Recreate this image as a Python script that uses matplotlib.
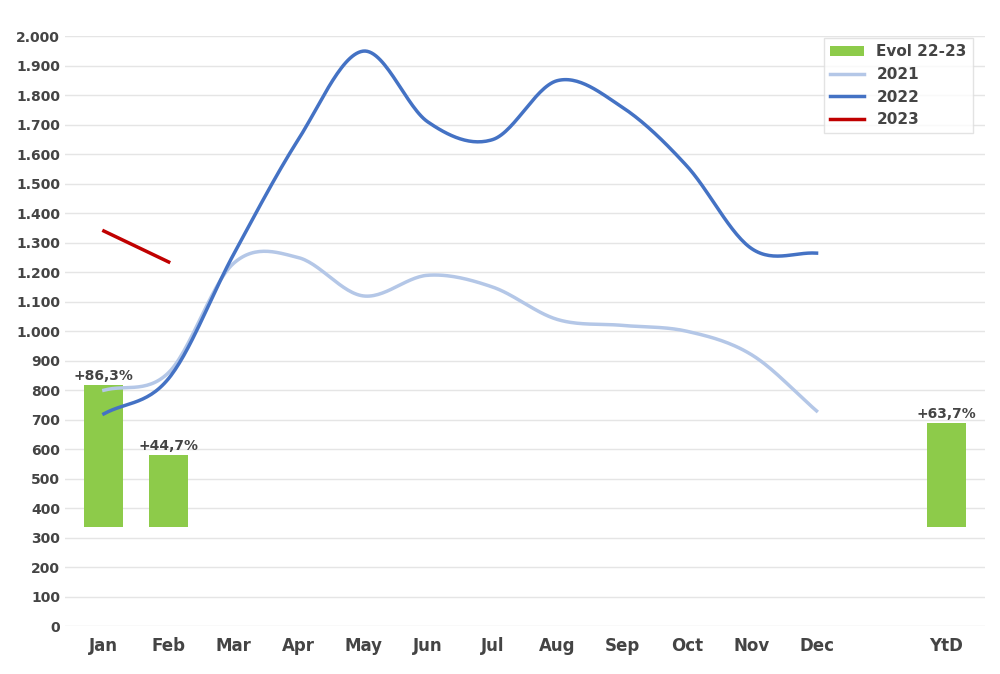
import numpy as np
import matplotlib
matplotlib.use("Agg")
import matplotlib.pyplot as plt

months = ["Jan","Feb","Mar","Apr","May","Jun","Jul","Aug","Sep","Oct","Nov","Dec"]
ticklabels = months + ["", "YtD"]
s2021 = [800, 860, 1230, 1250, 1120, 1190, 1150, 1040, 1020, 1000, 920, 730]
s2022 = [720, 840, 1260, 1650, 1950, 1710, 1650, 1850, 1760, 1560, 1280, 1265]
s2023 = [1340, 1235]
bar_pos = [0, 1, 13]
bar_base = 335
bar_top = [817, 580, 688]
bar_labels = ["+86,3%", "+44,7%", "+63,7%"]

def smooth(y, n=30):
    y = np.asarray(y, float)
    x = np.arange(len(y))
    p = np.concatenate([[2*y[0]-y[1]], y, [2*y[-1]-y[-2]]])
    xs, ys = [], []
    for i in range(len(y)-1):
        p0, p1, p2, p3 = p[i], p[i+1], p[i+2], p[i+3]
        t = np.linspace(0, 1, n, endpoint=False)
        v = 0.5*((2*p1) + (-p0+p2)*t + (2*p0-5*p1+4*p2-p3)*t**2 + (-p0+3*p1-3*p2+p3)*t**3)
        xs.append(x[i]+t); ys.append(v)
    xs.append([x[-1]]); ys.append([y[-1]])
    return np.concatenate(xs), np.concatenate(ys)

fig, ax = plt.subplots(figsize=(10, 6.74), dpi=100)
fig.subplots_adjust(left=0.065, right=0.985, top=0.946, bottom=0.071)
gray = "#444444"
hb = ax.bar(bar_pos, [t-bar_base for t in bar_top], bottom=bar_base, width=0.6,
       color="#8DCB4A", label="Evol 22-23", zorder=2)
for p, t, l in zip(bar_pos, bar_top, bar_labels):
    ax.text(p, t+8, l, ha="center", va="bottom", fontsize=10, fontweight="bold", color=gray)
x, y = smooth(s2021)
h1, = ax.plot(x, y, color="#B4C7E7", lw=2.5, label="2021", zorder=3)
x, y = smooth(s2022)
h2, = ax.plot(x, y, color="#4472C4", lw=2.5, label="2022", zorder=3)
h3, = ax.plot(range(len(s2023)), s2023, color="#C00000", lw=2.5, label="2023", zorder=3)

ax.set_ylim(0, 2000)
ax.set_xlim(-0.6, 13.6)
ax.set_yticks(range(0, 2001, 100))
ax.set_yticklabels([f"{v:,}".replace(",", ".") for v in range(0, 2001, 100)])
ax.set_xticks(range(14))
ax.set_xticklabels(ticklabels)
for lab in ax.get_xticklabels() + ax.get_yticklabels():
    lab.set_fontweight("bold"); lab.set_color(gray)
ax.tick_params(axis="x", labelsize=12, length=0, pad=8)
ax.tick_params(axis="y", labelsize=10, length=0)
ax.grid(axis="y", color="#E5E5E5", lw=1, zorder=0)
ax.set_axisbelow(True)
for s in ax.spines.values():
    s.set_visible(False)
leg = ax.legend([hb, h1, h2, h3], ["Evol 22-23", "2021", "2022", "2023"],
                loc="upper right", fontsize=11, frameon=True, fancybox=False,
                edgecolor="#DDDDDD", handlelength=2.2, bbox_to_anchor=(0.995, 1.01))
for t in leg.get_texts():
    t.set_fontweight("bold"); t.set_color(gray)
fig.savefig("out.png")
